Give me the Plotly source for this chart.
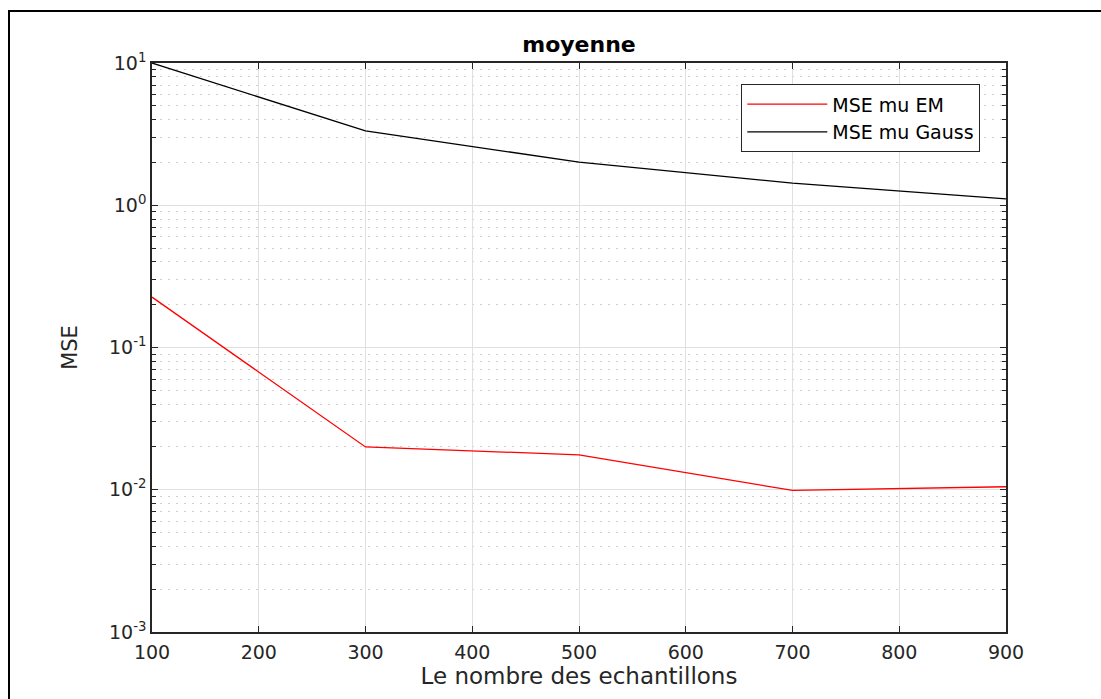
import plotly.graph_objects as go

n_samples = [100, 300, 500, 700, 900]
mse_mu_em = [0.226, 0.0200, 0.0176, 0.0099, 0.0105]
mse_mu_gauss = [10.0, 3.33, 2.01, 1.43, 1.11]
x_ticks = [100, 200, 300, 400, 500, 600, 700, 800, 900]
decades = [-3, -2, -1, 0, 1]
y_tickvals = [10.0 ** d for d in decades]
y_ticktext = ["10<sup>%d</sup>" % d for d in decades]
y_minorvals = [m * 10.0 ** d for d in decades[:-1] for m in range(2, 10)]

W, H = 1101, 699
L, R, T, B = 152, 1006, 63, 632

fig = go.Figure()
fig.add_trace(go.Scatter(x=n_samples, y=mse_mu_em, mode="lines", name="MSE mu EM",
                         line=dict(color="#ff0000", width=1.3)))
fig.add_trace(go.Scatter(x=n_samples, y=mse_mu_gauss, mode="lines", name="MSE mu Gauss",
                         line=dict(color="#000000", width=1.3)))

font = "DejaVu Sans, Liberation Sans, Arial, sans-serif"
axis_common = dict(
    showline=True, linecolor="#262626", linewidth=1.6, mirror="ticks",
    ticks="inside", ticklen=6, tickcolor="#262626", tickwidth=1,
    showgrid=True, gridcolor="#e0e0e0", gridwidth=1,
    zeroline=False, tickfont=dict(family=font, size=19, color="#262626"),
)

fig.update_xaxes(**axis_common, range=[100, 900], tickmode="array", tickvals=x_ticks,
                 ticklabelstandoff=2,
                 title=dict(text="Le nombre des echantillons", font=dict(family=font, size=23, color="#262626"), standoff=6))
fig.update_yaxes(**axis_common, type="log", range=[-3, 1], tickmode="array",
                 tickvals=y_tickvals, ticktext=y_ticktext,
                 title=dict(text="MSE", font=dict(family=font, size=21, color="#262626"), standoff=26),
                 minor=dict(tickmode="array", tickvals=y_minorvals, ticks="inside", ticklen=4,
                            tickcolor="#262626", showgrid=True,
                            gridcolor="#cfcfcf", griddash="1.5px,6.5px", gridwidth=1.2))

fig.update_layout(
    width=W, height=H,
    margin=dict(l=L, r=W - R, t=T, b=H - B),
    paper_bgcolor="white", plot_bgcolor="white",
    title=dict(text="<b>moyenne</b>", x=(L + R) / 2 / W, xanchor="center",
               y=1 - 44 / H, yanchor="middle", font=dict(family=font, size=22, color="#000000")),
    legend=dict(x=(980 - L) / (R - L), xanchor="right", y=(B - 84) / (B - T), yanchor="top",
                bgcolor="white", bordercolor="#262626", borderwidth=1.3,
                itemwidth=80,
                font=dict(family=font, size=19, color="#000000"), tracegroupgap=0),
    showlegend=True,
)

# outer figure frame
fig.add_shape(type="rect", xref="paper", yref="paper",
              x0=(9 - L) / (R - L), x1=(1110 - L) / (R - L),
              y0=(B - 720) / (B - T), y1=(B - 11) / (B - T),
              line=dict(color="black", width=2), fillcolor="rgba(0,0,0,0)", layer="below")

fig.write_html("out.html")
